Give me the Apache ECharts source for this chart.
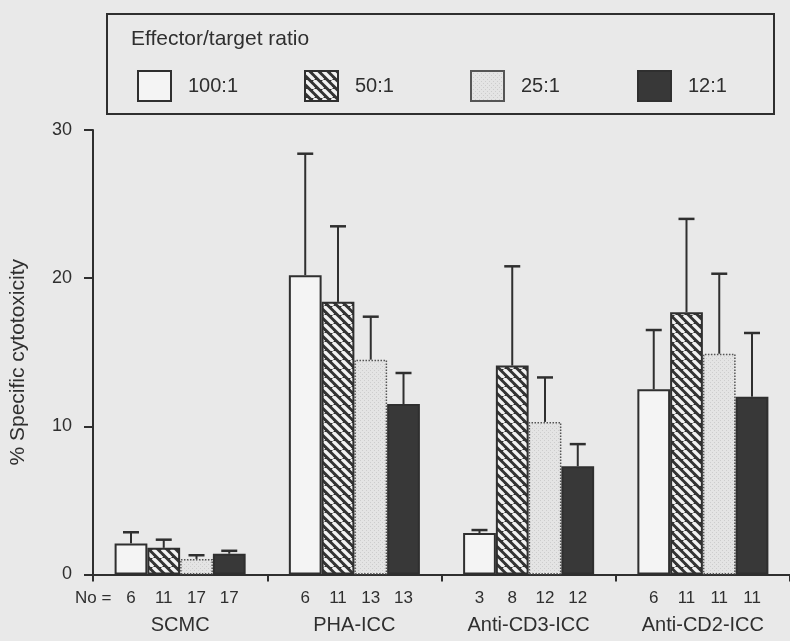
<!DOCTYPE html>
<html><head><meta charset="utf-8">
<script src="https://cdn.jsdelivr.net/npm/echarts@6/dist/echarts.min.js"></script>
<style>html,body{margin:0;padding:0;background:#e9e9e9;}#c{width:790px;height:641px;}</style>
</head><body><div id="c"></div>
<script>
const categories = ['SCMC', 'PHA-ICC', 'Anti-CD3-ICC', 'Anti-CD2-ICC'];
const seriesNames = ['100:1', '50:1', '25:1', '12:1'];
const val100 = [2.1, 20.2, 2.8, 12.5];
const val50  = [1.8, 18.4, 14.1, 17.7];
const val25  = [1.05, 14.5, 10.3, 14.9];
const val12  = [1.4, 11.5, 7.3, 12.0];
const err100 = [2.85, 28.4, 3.0, 16.5];
const err50  = [2.35, 23.5, 20.8, 24.0];
const err25  = [1.3, 17.4, 13.3, 20.3];
const err12  = [1.6, 13.6, 8.8, 16.3];
const n100 = [6, 6, 3, 6];
const n50  = [11, 11, 8, 11];
const n25  = [17, 13, 12, 11];
const n12  = [17, 13, 12, 11];
const yTicks = [0, 10, 20, 30];

const FONT = "'Liberation Sans', Arial, sans-serif";
const INK = '#2f2f2f';

function hatch() {
  const s = 9, c = document.createElement('canvas');
  c.width = s; c.height = s;
  const g = c.getContext('2d');
  g.fillStyle = '#333333'; g.fillRect(0, 0, s, s);
  g.strokeStyle = '#f2f2f2'; g.lineWidth = 3.4;
  for (let k = -1; k <= 1; k++) {
    g.beginPath(); g.moveTo(k * s, 0); g.lineTo(k * s + s, s); g.stroke();
  }
  return c;
}
function stipple() {
  const s = 4, c = document.createElement('canvas');
  c.width = s; c.height = s;
  const g = c.getContext('2d');
  g.fillStyle = '#e4e4e4'; g.fillRect(0, 0, s, s);
  g.fillStyle = '#cdcdcd'; g.fillRect(0, 0, 1, 1); g.fillRect(2, 2, 1, 1);
  return c;
}

const vals = [val100, val50, val25, val12];
const errs = [err100, err50, err25, err12];
const ns = [n100, n50, n25, n12];
const styles = [
  { color: '#f4f4f4', borderColor: INK, borderWidth: 2 },
  { color: { image: hatch(), repeat: 'repeat' }, borderColor: INK, borderWidth: 2 },
  { color: { image: stipple(), repeat: 'repeat' }, borderColor: '#555', borderWidth: 1.5, borderType: 'dotted' },
  { color: '#383838', borderColor: INK, borderWidth: 2 }
];
const BAR_FRAC = 0.188;

const series = [];
seriesNames.forEach((name, i) => {
  series.push({
    name, type: 'bar', barWidth: (BAR_FRAC * 100) + '%', barGap: '0%',
    data: vals[i], itemStyle: styles[i], z: 3,
    label: {
      show: true, position: 'bottom', distance: 15,
      formatter: p => String(ns[i][p.dataIndex]),
      fontFamily: FONT, fontSize: 17, color: INK
    }
  });
  series.push({
    name: name + ' err', type: 'custom', z: 2,
    data: categories.map((c, k) => [k, vals[i][k], errs[i][k]]),
    renderItem: (params, api) => {
      const band = api.size([1, 0])[0];
      const bw = band * BAR_FRAC;
      const base = api.coord([api.value(0), api.value(1)]);
      const top = api.coord([api.value(0), api.value(2)]);
      const x = base[0] + (i - 1.5) * bw;
      const half = 8;
      return {
        type: 'group', children: [
          { type: 'line', shape: { x1: x, y1: base[1], x2: x, y2: top[1] }, style: { stroke: INK, lineWidth: 2 } },
          { type: 'line', shape: { x1: x - half, y1: top[1], x2: x + half, y2: top[1] }, style: { stroke: INK, lineWidth: 2.5 } }
        ]
      };
    },
    silent: true
  });
});

const legendLefts = [137, 304, 470, 637];
const legends = seriesNames.map((name, i) => ({
  data: [name], left: legendLefts[i], top: 70, padding: 0,
  icon: 'rect', itemWidth: 33, itemHeight: 30,
  formatter: n => '{a|' + n + '}',
  textStyle: {
    fontFamily: FONT, fontSize: 20, color: INK,
    rich: { a: { padding: [0, 0, 0, 12], fontFamily: FONT, fontSize: 20, color: INK } }
  }
}));

const chart = echarts.init(document.getElementById('c'));
chart.setOption({
  backgroundColor: '#e9e9e9',
  animation: false,
  title: {
    text: 'Effector/target ratio', left: 131, top: 29, padding: 0,
    textStyle: { fontFamily: FONT, fontSize: 21, fontWeight: 'normal', color: INK }
  },
  legend: legends,
  grid: { left: 92, top: 130, width: 708, bottom: 66.5 },
  xAxis: {
    type: 'category', data: categories,
    axisLine: { lineStyle: { color: INK, width: 2 } },
    axisTick: { show: true, length: 7, lineStyle: { color: INK, width: 2 } },
    axisLabel: { margin: 41, fontFamily: FONT, fontSize: 20, color: INK, interval: 0 }
  },
  yAxis: {
    type: 'value', min: yTicks[0], max: yTicks[yTicks.length - 1], interval: 10,
    name: '% Specific cytotoxicity', nameLocation: 'middle', nameGap: 64,
    nameTextStyle: { fontFamily: FONT, fontSize: 21, color: INK, padding: [0, 20, 0, 0] },
    axisLine: { show: true, lineStyle: { color: INK, width: 2 } },
    axisTick: { show: true, length: 9, lineStyle: { color: INK, width: 2 } },
    axisLabel: { margin: 21, fontFamily: FONT, fontSize: 18, color: INK },
    splitLine: { show: false }
  },
  graphic: [
    { type: 'rect', shape: { x: 107, y: 14, width: 667, height: 100 },
      style: { fill: 'none', stroke: INK, lineWidth: 2 }, silent: true },
    { type: 'text', left: 75, top: 590,
      style: { text: 'No =', fontFamily: FONT, fontSize: 17, fill: INK } }
  ],
  series
});
</script></body></html>
